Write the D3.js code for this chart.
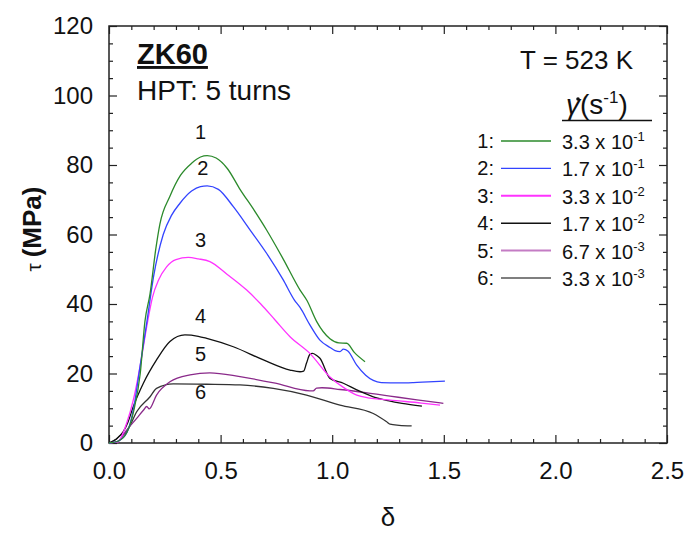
<!DOCTYPE html>
<html>
<head>
<script src="https://cdn.jsdelivr.net/npm/d3@7"></script>
<style type="text/css">
body { margin: 0; background: #fff; }
text { font-family: "Liberation Sans", Arial, sans-serif; fill: #111; }
.curve { fill: none; stroke-width: 1.3; stroke-linejoin: round; }
.axis path { display: none; }
.axis line { stroke: #222; stroke-width: 1.2; }
.frame { fill: none; stroke: #222; stroke-width: 1.5; }
</style>
</head>
<body>
<div id="chart"></div>
<script>

var curve1 = [[0,0],[0.04,0.5],[0.08,3],[0.11,9],[0.14,20],[0.161,35],[0.184,43],[0.21,56],[0.228,63],[0.273,71],[0.32,77],[0.37,80.5],[0.41,82.3],[0.44,82.7],[0.48,82],[0.53,79],[0.587,73],[0.65,67],[0.706,61.3],[0.78,53],[0.856,44],[0.887,41],[0.93,35],[0.99,30],[1.03,28.8],[1.065,28.7],[1.1,26],[1.147,23.4]];
var curve2 = [[0,0],[0.04,0.5],[0.08,3],[0.109,9.5],[0.139,22],[0.17,35],[0.2,48],[0.243,60],[0.28,65.5],[0.318,69],[0.37,72.5],[0.41,73.8],[0.44,74],[0.49,73],[0.557,68],[0.63,61.5],[0.706,54.6],[0.78,47],[0.83,41.2],[0.856,39],[0.9,34],[0.945,29.6],[0.99,27.5],[1.013,26.6],[1.035,26.3],[1.05,27],[1.07,26.5],[1.11,22.4],[1.15,19.5],[1.184,18],[1.22,17.4],[1.3,17.3],[1.364,17.4],[1.43,17.6],[1.505,17.8]];
var curve3 = [[0,0],[0.04,0.3],[0.079,5.7],[0.109,12.4],[0.139,22],[0.169,33.5],[0.195,42],[0.222,46.9],[0.258,50.7],[0.3,52.8],[0.355,53.4],[0.4,53],[0.452,52.2],[0.53,48.5],[0.617,44],[0.68,40],[0.744,35.4],[0.811,30.6],[0.9,25.8],[0.99,19],[1.05,16],[1.11,13.8],[1.16,13],[1.214,12.6],[1.3,12.1],[1.4,11.5],[1.483,10.9]];
var curve4 = [[0,0],[0.03,1],[0.064,3.3],[0.085,6],[0.109,10.5],[0.154,17.2],[0.213,23.9],[0.273,29.2],[0.34,31.1],[0.4,30.7],[0.438,30.1],[0.557,27.7],[0.692,23.9],[0.811,21],[0.856,20.5],[0.872,20.7],[0.885,23],[0.9,25.5],[0.912,25.8],[0.93,25.2],[0.945,24.4],[0.99,18.6],[1.05,17.2],[1.11,15.3],[1.184,13.3],[1.25,12.2],[1.313,11.4],[1.402,10.6]];
var curve5 = [[0,0],[0.04,0.5],[0.079,3.7],[0.124,7.1],[0.155,9.5],[0.169,10.5],[0.18,9.8],[0.213,13.8],[0.273,17.6],[0.363,19.6],[0.452,20.2],[0.587,19.1],[0.745,17.2],[0.9,15],[0.915,15],[0.93,15.8],[0.954,15.9],[1.035,15.4],[1.15,14.5],[1.259,13.5],[1.38,12.4],[1.498,11.4]];
var curve6 = [[0,0],[0.03,1],[0.055,2.4],[0.07,2.6],[0.09,4.5],[0.124,9],[0.184,13.3],[0.213,15.7],[0.288,17],[0.438,16.9],[0.587,16.7],[0.736,15.7],[0.885,13.8],[1.035,10.9],[1.184,8.5],[1.244,6.1],[1.259,5.4],[1.3,5.1],[1.356,4.9]];

var curves = [curve1, curve2, curve3, curve4, curve5, curve6];
var curveNames = ["1", "2", "3", "4", "5", "6"];
var rateMant = ["3.3", "1.7", "3.3", "1.7", "6.7", "3.3"];
var rateExp = ["-1", "-1", "-2", "-2", "-3", "-3"];
// where the curve numbers sit (delta, tau)
var labelPos = [[0.41, 87.5], [0.42, 77], [0.41, 56.5], [0.41, 34.5], [0.41, 23.5], [0.41, 12.8]];

var xTicks = [0, 0.5, 1.0, 1.5, 2.0, 2.5];
var yTicks = [0, 20, 40, 60, 80, 100, 120];

var colors = ["#2b8a2b", "#3344ff", "#ff33ff", "#111111", "#8a2a8a", "#333333"];
var legendColors = ["#2b8a2b", "#3344ff", "#ff33ff", "#111111", "#c47cc4", "#555555"];

var margin = {top: 26, right: 20, bottom: 92, left: 109},
	width = 687 - margin.left - margin.right,
	height = 535 - margin.top - margin.bottom;

var svg = d3.select("#chart").append("svg")
	.attr("width", 687).attr("height", 535);
var g = svg.append("g").attr("transform", "translate(" + margin.left + "," + margin.top + ")");

var x = d3.scaleLinear().domain([0, 2.5]).range([0, width]);
var y = d3.scaleLinear().domain([0, 120]).range([height, 0]);

var xMinor = d3.range(0, 2.51, 0.1).filter(function(v) { return Math.abs(v * 2 - Math.round(v * 2)) > 1e-6; });
var yMinor = d3.range(0, 121, 5).filter(function(v) { return v % 20 != 0; });

// major + minor ticks, all pointing inside, on four sides
g.append("g").attr("class", "axis").attr("transform", "translate(0," + height + ")")
	.call(d3.axisBottom(x).tickValues(xTicks).tickFormat(d3.format(".1f")).tickSizeInner(-8).tickSizeOuter(0).tickPadding(19))
	.selectAll("text").style("font-size", "24px").attr("fill", "#111");
g.append("g").attr("class", "axis").attr("transform", "translate(0," + height + ")")
	.call(d3.axisBottom(x).tickValues(xMinor).tickFormat("").tickSizeInner(-4).tickSizeOuter(0));
g.append("g").attr("class", "axis")
	.call(d3.axisTop(x).tickValues(xTicks).tickFormat("").tickSizeInner(-8).tickSizeOuter(0));
g.append("g").attr("class", "axis")
	.call(d3.axisTop(x).tickValues(xMinor).tickFormat("").tickSizeInner(-4).tickSizeOuter(0));

g.append("g").attr("class", "axis")
	.call(d3.axisLeft(y).tickValues(yTicks).tickSizeInner(-8).tickSizeOuter(0).tickPadding(16))
	.selectAll("text").style("font-size", "24px").attr("fill", "#111");
g.append("g").attr("class", "axis")
	.call(d3.axisLeft(y).tickValues(yMinor).tickFormat("").tickSizeInner(-4).tickSizeOuter(0));
g.append("g").attr("class", "axis").attr("transform", "translate(" + width + ",0)")
	.call(d3.axisRight(y).tickValues(yTicks).tickFormat("").tickSizeInner(-8).tickSizeOuter(0));
g.append("g").attr("class", "axis").attr("transform", "translate(" + width + ",0)")
	.call(d3.axisRight(y).tickValues(yMinor).tickFormat("").tickSizeInner(-4).tickSizeOuter(0));

g.append("rect").attr("class", "frame").attr("width", width).attr("height", height);

// curves
var line = d3.line()
	.x(function(d) { return x(d[0]); })
	.y(function(d) { return y(d[1]); })
	.curve(d3.curveMonotoneX);

// draw the slow ones first so the fast ones stay on top
for (var i = curves.length - 1; i >= 0; i--) {
	g.append("path").datum(curves[i])
		.attr("class", "curve")
		.attr("stroke", colors[i])
		.attr("d", line);
}

g.selectAll("text.clabel").data(curveNames).enter().append("text")
	.attr("class", "clabel")
	.attr("x", function(d, i) { return x(labelPos[i][0]); })
	.attr("y", function(d, i) { return y(labelPos[i][1]); })
	.attr("text-anchor", "middle")
	.style("font-size", "20px")
	.text(function(d) { return d; });

// axis titles
var yt = svg.append("text")
	.attr("transform", "translate(41,229) rotate(-90)")
	.attr("text-anchor", "middle")
	.style("font-size", "26px");
yt.append("tspan").style("font-size", "21px").text("τ ");
yt.append("tspan").style("font-weight", "bold").text("(MPa)");
svg.append("text")
	.attr("x", 388).attr("y", 526)
	.attr("text-anchor", "middle")
	.style("font-size", "26px")
	.text("δ");

// titles inside the box
svg.append("text").attr("x", 137).attr("y", 64)
	.style("font-size", "29px").style("font-weight", "bold")
	.style("text-decoration", "underline")
	.text("ZK60");
svg.append("text").attr("x", 137).attr("y", 100)
	.style("font-size", "28px")
	.text("HPT: 5 turns");
svg.append("text").attr("x", 520).attr("y", 69)
	.style("font-size", "26px")
	.text("T = 523 K");

// shear rate header
var hdr = svg.append("text").attr("x", 566).attr("y", 114).style("font-size", "28px");
hdr.append("tspan").style("font-style", "italic").text("γ");
hdr.append("tspan").text("(s");
hdr.append("tspan").attr("dy", -11).style("font-size", "17px").text("-1");
hdr.append("tspan").attr("dy", 11).text(")");
svg.append("circle").attr("cx", 578).attr("cy", 99).attr("r", 1.8).attr("fill", "#111");
svg.append("line").attr("x1", 562).attr("x2", 652).attr("y1", 120.5).attr("y2", 120.5)
	.attr("stroke", "#111").attr("stroke-width", 1.5);

// legend
var ly = d3.scalePoint().domain(curveNames).range([141, 278]);
var leg = svg.selectAll("g.leg").data(curveNames).enter().append("g")
	.attr("class", "leg")
	.attr("transform", function(d) { return "translate(0," + ly(d) + ")"; });
leg.append("text").attr("x", 494).attr("y", 7).attr("text-anchor", "end")
	.style("font-size", "20px").text(function(d) { return d + ":"; });
leg.append("line").attr("x1", 501).attr("x2", 551)
	.attr("stroke", function(d, i) { return legendColors[i]; })
	.attr("stroke-width", function(d, i) { return i == 2 || i == 4 ? 2 : 1.4; });
var lt = leg.append("text").attr("x", 562).attr("y", 8).style("font-size", "20px");
lt.append("tspan").text(function(d, i) { return rateMant[i] + " x 10"; });
lt.append("tspan").attr("dy", -8).style("font-size", "13px").text(function(d, i) { return rateExp[i]; });

</script>
</body>
</html>
